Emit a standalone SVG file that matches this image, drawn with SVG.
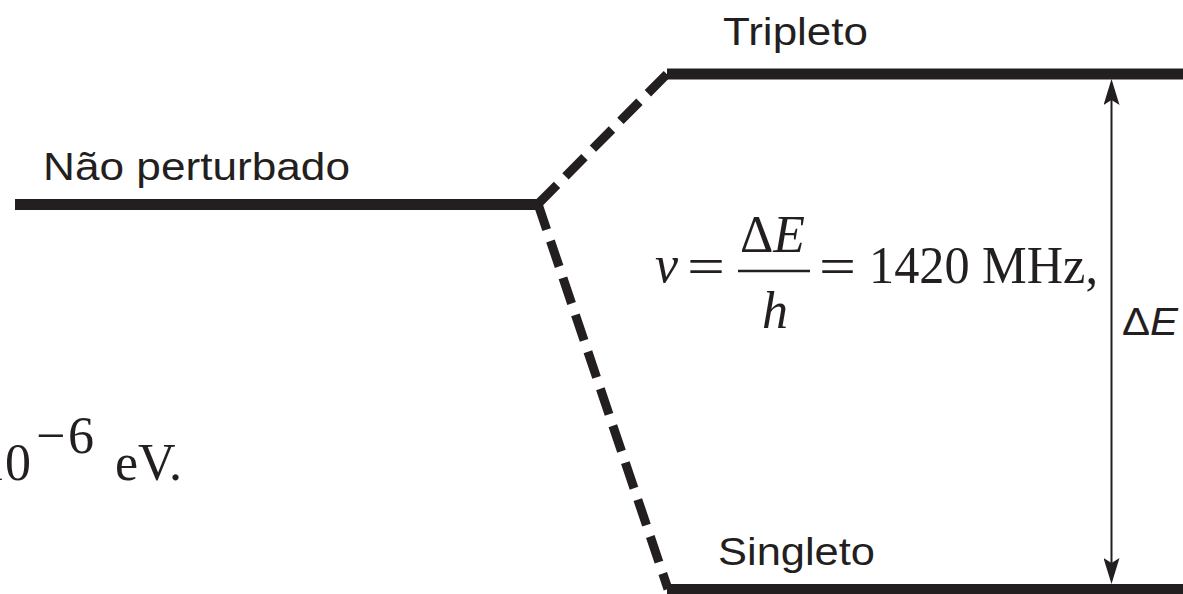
<svg xmlns="http://www.w3.org/2000/svg" width="1183" height="594" viewBox="0 0 1183 594">
  <style>
    .lvl { stroke: #231f20; stroke-width: 11; fill: none; }
    .dash { stroke: #231f20; stroke-width: 9; fill: none; stroke-dasharray: 27 12; }
    .sans { font-family: "Liberation Sans", Arial, sans-serif; font-size: 38px; fill: #231f20; }
    .serif { font-family: "Liberation Serif", "Times New Roman", serif; font-size: 52px; fill: #231f20; }
    .it { font-style: italic; }
  </style>
  <defs>
    <marker id="ah" viewBox="0 0 26 16" refX="22" refY="8" markerWidth="26" markerHeight="16" markerUnits="userSpaceOnUse" orient="auto-start-reverse">
      <path d="M26,8 L0,0 L5,8 L0,16 Z" fill="#231f20"/>
    </marker>
  </defs>
  <rect width="1183" height="594" fill="#ffffff"/>

  <g id="undisturbed">
    <line class="lvl" x1="15" y1="204.5" x2="538" y2="204.5"/>
    <text class="sans" x="43" y="180" textLength="307" lengthAdjust="spacingAndGlyphs">Não perturbado</text>
  </g>

  <g id="triplet">
    <line class="lvl" x1="667" y1="74" x2="1183" y2="74"/>
    <text class="sans" x="723" y="45" textLength="145" lengthAdjust="spacingAndGlyphs">Tripleto</text>
  </g>

  <g id="singlet">
    <line class="lvl" x1="667" y1="589.5" x2="1183" y2="589.5"/>
    <text class="sans" x="718" y="565" textLength="157" lengthAdjust="spacingAndGlyphs">Singleto</text>
  </g>

  <g id="formula">
    <text class="serif it" x="655" y="282">v</text>
    <text class="serif" x="687" y="284" textLength="38" lengthAdjust="spacingAndGlyphs">=</text>
    <text class="serif" x="740" y="252" textLength="65" lengthAdjust="spacingAndGlyphs">Δ<tspan class="it">E</tspan></text>
    <line x1="738" y1="271" x2="810" y2="271" stroke="#231f20" stroke-width="2.5"/>
    <text class="serif it" x="762" y="328">h</text>
    <text class="serif" x="819" y="284" textLength="37" lengthAdjust="spacingAndGlyphs">=</text>
    <text class="serif" x="869" y="283" textLength="229" lengthAdjust="spacingAndGlyphs">1420 MHz,</text>
  </g>

  <g id="deltaE-label">
    <text class="sans" x="1122" y="335" textLength="56" lengthAdjust="spacingAndGlyphs">Δ<tspan font-style="italic">E</tspan></text>
  </g>

  <g id="energy-note">
    <text class="serif" x="-21" y="480" font-size="62">10</text>
    <text class="serif" x="36" y="453" font-size="42">−</text>
    <text class="serif" x="68" y="453" font-size="42">6</text>
    <text class="serif" x="115" y="480" font-size="62">eV.</text>
  </g>

  <g id="connectors">
    <path class="dash" d="M538,204 L667,74"/>
    <path class="dash" d="M538,204 L668,589"/>
    <line x1="1111.5" y1="83" x2="1111.5" y2="580" stroke="#231f20" stroke-width="2" marker-start="url(#ah)" marker-end="url(#ah)"/>
  </g>
</svg>
